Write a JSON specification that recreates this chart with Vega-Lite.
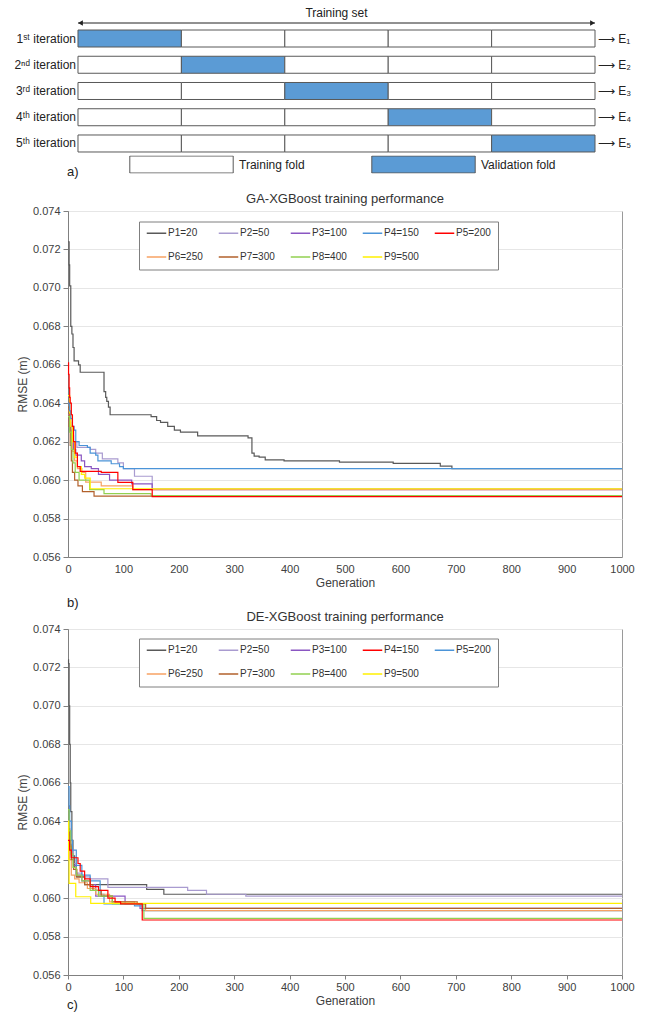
{
  "$schema": "https://vega.github.io/schema/vega-lite/v6.json",
  "background": "white",
  "padding": {"left": 14, "top": 0, "right": 0, "bottom": 0},
  "bounds": "flush",
  "spacing": 72,
  "resolve": {"scale": {"color": "independent"}, "legend": {"color": "independent"}},
  "config": {"font": "Liberation Sans", "view": {"stroke": null}},
  "datasets": {
    "cells": [
      {"iteration": 1, "fold": 1, "fold_type": "Validation fold"}, {"iteration": 1, "fold": 2, "fold_type": "Training fold"}, {"iteration": 1, "fold": 3, "fold_type": "Training fold"}, {"iteration": 1, "fold": 4, "fold_type": "Training fold"}, {"iteration": 1, "fold": 5, "fold_type": "Training fold"},
      {"iteration": 2, "fold": 1, "fold_type": "Training fold"}, {"iteration": 2, "fold": 2, "fold_type": "Validation fold"}, {"iteration": 2, "fold": 3, "fold_type": "Training fold"}, {"iteration": 2, "fold": 4, "fold_type": "Training fold"}, {"iteration": 2, "fold": 5, "fold_type": "Training fold"},
      {"iteration": 3, "fold": 1, "fold_type": "Training fold"}, {"iteration": 3, "fold": 2, "fold_type": "Training fold"}, {"iteration": 3, "fold": 3, "fold_type": "Validation fold"}, {"iteration": 3, "fold": 4, "fold_type": "Training fold"}, {"iteration": 3, "fold": 5, "fold_type": "Training fold"},
      {"iteration": 4, "fold": 1, "fold_type": "Training fold"}, {"iteration": 4, "fold": 2, "fold_type": "Training fold"}, {"iteration": 4, "fold": 3, "fold_type": "Training fold"}, {"iteration": 4, "fold": 4, "fold_type": "Validation fold"}, {"iteration": 4, "fold": 5, "fold_type": "Training fold"},
      {"iteration": 5, "fold": 1, "fold_type": "Training fold"}, {"iteration": 5, "fold": 2, "fold_type": "Training fold"}, {"iteration": 5, "fold": 3, "fold_type": "Training fold"}, {"iteration": 5, "fold": 4, "fold_type": "Training fold"}, {"iteration": 5, "fold": 5, "fold_type": "Validation fold"}
    ],
    "rows": [
      {"iteration": 1, "label": "1ˢᵗ iteration", "result": "⟶ E₁"},
      {"iteration": 2, "label": "2ⁿᵈ iteration", "result": "⟶ E₂"},
      {"iteration": 3, "label": "3ʳᵈ iteration", "result": "⟶ E₃"},
      {"iteration": 4, "label": "4ᵗʰ iteration", "result": "⟶ E₄"},
      {"iteration": 5, "label": "5ᵗʰ iteration", "result": "⟶ E₅"}
    ],
    "ga": [
      {"series": "P1=20", "gen": 0, "rmse": 0.0724}, {"series": "P1=20", "gen": 2, "rmse": 0.0712}, {"series": "P1=20", "gen": 3, "rmse": 0.0701}, {"series": "P1=20", "gen": 5, "rmse": 0.068}, {"series": "P1=20", "gen": 7, "rmse": 0.0676}, {"series": "P1=20", "gen": 9, "rmse": 0.0669}, {"series": "P1=20", "gen": 11, "rmse": 0.0662}, {"series": "P1=20", "gen": 19, "rmse": 0.066}, {"series": "P1=20", "gen": 22, "rmse": 0.06561}, {"series": "P1=20", "gen": 65, "rmse": 0.0646}, {"series": "P1=20", "gen": 68, "rmse": 0.0643}, {"series": "P1=20", "gen": 70, "rmse": 0.0641}, {"series": "P1=20", "gen": 73, "rmse": 0.0638}, {"series": "P1=20", "gen": 76, "rmse": 0.0634}, {"series": "P1=20", "gen": 150, "rmse": 0.0633}, {"series": "P1=20", "gen": 160, "rmse": 0.0631}, {"series": "P1=20", "gen": 167, "rmse": 0.063}, {"series": "P1=20", "gen": 180, "rmse": 0.0628}, {"series": "P1=20", "gen": 192, "rmse": 0.0626}, {"series": "P1=20", "gen": 203, "rmse": 0.0625}, {"series": "P1=20", "gen": 234, "rmse": 0.0623}, {"series": "P1=20", "gen": 325, "rmse": 0.0622}, {"series": "P1=20", "gen": 332, "rmse": 0.0614}, {"series": "P1=20", "gen": 336, "rmse": 0.06125}, {"series": "P1=20", "gen": 345, "rmse": 0.0612}, {"series": "P1=20", "gen": 356, "rmse": 0.06105}, {"series": "P1=20", "gen": 390, "rmse": 0.061}, {"series": "P1=20", "gen": 490, "rmse": 0.06094}, {"series": "P1=20", "gen": 587, "rmse": 0.06087}, {"series": "P1=20", "gen": 672, "rmse": 0.06073}, {"series": "P1=20", "gen": 693, "rmse": 0.0606}, {"series": "P1=20", "gen": 1000, "rmse": 0.0606},
      {"series": "P2=50", "gen": 0, "rmse": 0.0634}, {"series": "P2=50", "gen": 3, "rmse": 0.0628}, {"series": "P2=50", "gen": 6, "rmse": 0.0623}, {"series": "P2=50", "gen": 10, "rmse": 0.062}, {"series": "P2=50", "gen": 16, "rmse": 0.0617}, {"series": "P2=50", "gen": 40, "rmse": 0.0616}, {"series": "P2=50", "gen": 50, "rmse": 0.0614}, {"series": "P2=50", "gen": 62, "rmse": 0.0611}, {"series": "P2=50", "gen": 90, "rmse": 0.0609}, {"series": "P2=50", "gen": 100, "rmse": 0.0606}, {"series": "P2=50", "gen": 120, "rmse": 0.0602}, {"series": "P2=50", "gen": 152, "rmse": 0.05955}, {"series": "P2=50", "gen": 1000, "rmse": 0.05955},
      {"series": "P3=100", "gen": 0, "rmse": 0.0631}, {"series": "P3=100", "gen": 3, "rmse": 0.0626}, {"series": "P3=100", "gen": 6, "rmse": 0.062}, {"series": "P3=100", "gen": 10, "rmse": 0.0616}, {"series": "P3=100", "gen": 14, "rmse": 0.0613}, {"series": "P3=100", "gen": 24, "rmse": 0.061}, {"series": "P3=100", "gen": 30, "rmse": 0.0607}, {"series": "P3=100", "gen": 42, "rmse": 0.0606}, {"series": "P3=100", "gen": 55, "rmse": 0.0603}, {"series": "P3=100", "gen": 75, "rmse": 0.06}, {"series": "P3=100", "gen": 115, "rmse": 0.0598}, {"series": "P3=100", "gen": 152, "rmse": 0.0595}, {"series": "P3=100", "gen": 1000, "rmse": 0.0595},
      {"series": "P6=250", "gen": 0, "rmse": 0.0636}, {"series": "P6=250", "gen": 3, "rmse": 0.063}, {"series": "P6=250", "gen": 5, "rmse": 0.0622}, {"series": "P6=250", "gen": 8, "rmse": 0.0615}, {"series": "P6=250", "gen": 12, "rmse": 0.061}, {"series": "P6=250", "gen": 17, "rmse": 0.0606}, {"series": "P6=250", "gen": 25, "rmse": 0.0604}, {"series": "P6=250", "gen": 32, "rmse": 0.0599}, {"series": "P6=250", "gen": 60, "rmse": 0.0597}, {"series": "P6=250", "gen": 117, "rmse": 0.0595}, {"series": "P6=250", "gen": 1000, "rmse": 0.0595},
      {"series": "P7=300", "gen": 0, "rmse": 0.0638}, {"series": "P7=300", "gen": 2, "rmse": 0.0628}, {"series": "P7=300", "gen": 4, "rmse": 0.0618}, {"series": "P7=300", "gen": 6, "rmse": 0.061}, {"series": "P7=300", "gen": 8, "rmse": 0.0604}, {"series": "P7=300", "gen": 12, "rmse": 0.06}, {"series": "P7=300", "gen": 18, "rmse": 0.0597}, {"series": "P7=300", "gen": 26, "rmse": 0.0594}, {"series": "P7=300", "gen": 47, "rmse": 0.05917}, {"series": "P7=300", "gen": 1000, "rmse": 0.05917},
      {"series": "P8=400", "gen": 0, "rmse": 0.0633}, {"series": "P8=400", "gen": 3, "rmse": 0.0625}, {"series": "P8=400", "gen": 6, "rmse": 0.0616}, {"series": "P8=400", "gen": 9, "rmse": 0.0609}, {"series": "P8=400", "gen": 13, "rmse": 0.0604}, {"series": "P8=400", "gen": 20, "rmse": 0.06}, {"series": "P8=400", "gen": 39, "rmse": 0.0595}, {"series": "P8=400", "gen": 65, "rmse": 0.0593}, {"series": "P8=400", "gen": 150, "rmse": 0.0592}, {"series": "P8=400", "gen": 1000, "rmse": 0.0592},
      {"series": "P9=500", "gen": 0, "rmse": 0.0644}, {"series": "P9=500", "gen": 3, "rmse": 0.0635}, {"series": "P9=500", "gen": 5, "rmse": 0.0628}, {"series": "P9=500", "gen": 8, "rmse": 0.062}, {"series": "P9=500", "gen": 12, "rmse": 0.0612}, {"series": "P9=500", "gen": 17, "rmse": 0.0607}, {"series": "P9=500", "gen": 24, "rmse": 0.0603}, {"series": "P9=500", "gen": 30, "rmse": 0.0601}, {"series": "P9=500", "gen": 40, "rmse": 0.05955}, {"series": "P9=500", "gen": 1000, "rmse": 0.05955},
      {"series": "P4=150", "gen": 0, "rmse": 0.064}, {"series": "P4=150", "gen": 3, "rmse": 0.0636}, {"series": "P4=150", "gen": 5, "rmse": 0.0632}, {"series": "P4=150", "gen": 8, "rmse": 0.0628}, {"series": "P4=150", "gen": 11, "rmse": 0.0626}, {"series": "P4=150", "gen": 14, "rmse": 0.062}, {"series": "P4=150", "gen": 20, "rmse": 0.0618}, {"series": "P4=150", "gen": 35, "rmse": 0.0617}, {"series": "P4=150", "gen": 40, "rmse": 0.0614}, {"series": "P4=150", "gen": 50, "rmse": 0.0613}, {"series": "P4=150", "gen": 54, "rmse": 0.061}, {"series": "P4=150", "gen": 78, "rmse": 0.06085}, {"series": "P4=150", "gen": 93, "rmse": 0.0607}, {"series": "P4=150", "gen": 100, "rmse": 0.0606}, {"series": "P4=150", "gen": 1000, "rmse": 0.0606},
      {"series": "P5=200", "gen": 0, "rmse": 0.0661}, {"series": "P5=200", "gen": 1, "rmse": 0.0655}, {"series": "P5=200", "gen": 2, "rmse": 0.0648}, {"series": "P5=200", "gen": 3, "rmse": 0.0643}, {"series": "P5=200", "gen": 4, "rmse": 0.064}, {"series": "P5=200", "gen": 6, "rmse": 0.0634}, {"series": "P5=200", "gen": 8, "rmse": 0.0628}, {"series": "P5=200", "gen": 10, "rmse": 0.062}, {"series": "P5=200", "gen": 13, "rmse": 0.0614}, {"series": "P5=200", "gen": 17, "rmse": 0.0607}, {"series": "P5=200", "gen": 22, "rmse": 0.06045}, {"series": "P5=200", "gen": 60, "rmse": 0.0604}, {"series": "P5=200", "gen": 90, "rmse": 0.05988}, {"series": "P5=200", "gen": 117, "rmse": 0.0595}, {"series": "P5=200", "gen": 152, "rmse": 0.05914}, {"series": "P5=200", "gen": 1000, "rmse": 0.05914}
    ],
    "de": [
      {"series": "P1=20", "gen": 0, "rmse": 0.0724}, {"series": "P1=20", "gen": 1, "rmse": 0.0722}, {"series": "P1=20", "gen": 2, "rmse": 0.07}, {"series": "P1=20", "gen": 3, "rmse": 0.068}, {"series": "P1=20", "gen": 4, "rmse": 0.066}, {"series": "P1=20", "gen": 5, "rmse": 0.0645}, {"series": "P1=20", "gen": 7, "rmse": 0.063}, {"series": "P1=20", "gen": 9, "rmse": 0.0622}, {"series": "P1=20", "gen": 12, "rmse": 0.0616}, {"series": "P1=20", "gen": 15, "rmse": 0.0611}, {"series": "P1=20", "gen": 30, "rmse": 0.0607}, {"series": "P1=20", "gen": 142, "rmse": 0.06045}, {"series": "P1=20", "gen": 173, "rmse": 0.0602}, {"series": "P1=20", "gen": 1000, "rmse": 0.0602},
      {"series": "P2=50", "gen": 0, "rmse": 0.064}, {"series": "P2=50", "gen": 3, "rmse": 0.0632}, {"series": "P2=50", "gen": 6, "rmse": 0.0625}, {"series": "P2=50", "gen": 10, "rmse": 0.0618}, {"series": "P2=50", "gen": 15, "rmse": 0.0613}, {"series": "P2=50", "gen": 25, "rmse": 0.0611}, {"series": "P2=50", "gen": 40, "rmse": 0.061}, {"series": "P2=50", "gen": 72, "rmse": 0.06056}, {"series": "P2=50", "gen": 216, "rmse": 0.0604}, {"series": "P2=50", "gen": 250, "rmse": 0.0602}, {"series": "P2=50", "gen": 321, "rmse": 0.0601}, {"series": "P2=50", "gen": 1000, "rmse": 0.0601},
      {"series": "P3=100", "gen": 0, "rmse": 0.0635}, {"series": "P3=100", "gen": 3, "rmse": 0.0628}, {"series": "P3=100", "gen": 6, "rmse": 0.0622}, {"series": "P3=100", "gen": 10, "rmse": 0.0617}, {"series": "P3=100", "gen": 15, "rmse": 0.0612}, {"series": "P3=100", "gen": 25, "rmse": 0.0609}, {"series": "P3=100", "gen": 40, "rmse": 0.0607}, {"series": "P3=100", "gen": 50, "rmse": 0.0601}, {"series": "P3=100", "gen": 103, "rmse": 0.0597}, {"series": "P3=100", "gen": 130, "rmse": 0.05947}, {"series": "P3=100", "gen": 1000, "rmse": 0.05947},
      {"series": "P5=200", "gen": 0, "rmse": 0.0658}, {"series": "P5=200", "gen": 2, "rmse": 0.0648}, {"series": "P5=200", "gen": 3, "rmse": 0.064}, {"series": "P5=200", "gen": 6, "rmse": 0.063}, {"series": "P5=200", "gen": 8, "rmse": 0.0625}, {"series": "P5=200", "gen": 15, "rmse": 0.0617}, {"series": "P5=200", "gen": 25, "rmse": 0.0612}, {"series": "P5=200", "gen": 40, "rmse": 0.0609}, {"series": "P5=200", "gen": 58, "rmse": 0.0602}, {"series": "P5=200", "gen": 65, "rmse": 0.0597}, {"series": "P5=200", "gen": 120, "rmse": 0.0596}, {"series": "P5=200", "gen": 134, "rmse": 0.05935}, {"series": "P5=200", "gen": 1000, "rmse": 0.05935},
      {"series": "P6=250", "gen": 0, "rmse": 0.0632}, {"series": "P6=250", "gen": 3, "rmse": 0.062}, {"series": "P6=250", "gen": 6, "rmse": 0.0612}, {"series": "P6=250", "gen": 12, "rmse": 0.061}, {"series": "P6=250", "gen": 20, "rmse": 0.0608}, {"series": "P6=250", "gen": 35, "rmse": 0.0605}, {"series": "P6=250", "gen": 50, "rmse": 0.0602}, {"series": "P6=250", "gen": 75, "rmse": 0.0598}, {"series": "P6=250", "gen": 120, "rmse": 0.0597}, {"series": "P6=250", "gen": 140, "rmse": 0.05935}, {"series": "P6=250", "gen": 1000, "rmse": 0.05935},
      {"series": "P7=300", "gen": 0, "rmse": 0.0636}, {"series": "P7=300", "gen": 3, "rmse": 0.0627}, {"series": "P7=300", "gen": 6, "rmse": 0.062}, {"series": "P7=300", "gen": 10, "rmse": 0.0615}, {"series": "P7=300", "gen": 16, "rmse": 0.0611}, {"series": "P7=300", "gen": 30, "rmse": 0.0607}, {"series": "P7=300", "gen": 45, "rmse": 0.0604}, {"series": "P7=300", "gen": 60, "rmse": 0.0601}, {"series": "P7=300", "gen": 80, "rmse": 0.0598}, {"series": "P7=300", "gen": 125, "rmse": 0.0597}, {"series": "P7=300", "gen": 140, "rmse": 0.05947}, {"series": "P7=300", "gen": 1000, "rmse": 0.05947},
      {"series": "P8=400", "gen": 0, "rmse": 0.0646}, {"series": "P8=400", "gen": 2, "rmse": 0.0635}, {"series": "P8=400", "gen": 5, "rmse": 0.0623}, {"series": "P8=400", "gen": 9, "rmse": 0.0616}, {"series": "P8=400", "gen": 15, "rmse": 0.0612}, {"series": "P8=400", "gen": 25, "rmse": 0.0609}, {"series": "P8=400", "gen": 40, "rmse": 0.0604}, {"series": "P8=400", "gen": 55, "rmse": 0.0601}, {"series": "P8=400", "gen": 80, "rmse": 0.0597}, {"series": "P8=400", "gen": 137, "rmse": 0.05895}, {"series": "P8=400", "gen": 1000, "rmse": 0.05895},
      {"series": "P9=500", "gen": 0, "rmse": 0.064}, {"series": "P9=500", "gen": 1, "rmse": 0.062}, {"series": "P9=500", "gen": 2, "rmse": 0.06077}, {"series": "P9=500", "gen": 14, "rmse": 0.06007}, {"series": "P9=500", "gen": 41, "rmse": 0.05973}, {"series": "P9=500", "gen": 1000, "rmse": 0.05973},
      {"series": "P4=150", "gen": 0, "rmse": 0.063}, {"series": "P4=150", "gen": 3, "rmse": 0.0625}, {"series": "P4=150", "gen": 6, "rmse": 0.0621}, {"series": "P4=150", "gen": 18, "rmse": 0.0618}, {"series": "P4=150", "gen": 22, "rmse": 0.0614}, {"series": "P4=150", "gen": 30, "rmse": 0.061}, {"series": "P4=150", "gen": 40, "rmse": 0.0606}, {"series": "P4=150", "gen": 55, "rmse": 0.0604}, {"series": "P4=150", "gen": 72, "rmse": 0.06}, {"series": "P4=150", "gen": 85, "rmse": 0.0598}, {"series": "P4=150", "gen": 95, "rmse": 0.0597}, {"series": "P4=150", "gen": 134, "rmse": 0.05886}, {"series": "P4=150", "gen": 1000, "rmse": 0.05886}
    ]
  },
  "vconcat": [
    {
      "width": 554,
      "height": 139,
      "view": {"stroke": null},
      "encoding": {
        "x": {"type": "quantitative", "scale": {"domain": [0.4033, 5.761], "nice": false, "zero": false}, "axis": null},
        "y": {"type": "quantitative", "scale": {"domain": [-0.4667, 4.8286], "nice": false, "zero": false, "reverse": true}, "axis": null}
      },
      "layer": [
        {
          "data": {"name": "cells"},
          "mark": {"type": "point", "shape": "M-1,-0.1644H1V0.1644H-1Z", "size": 10692, "filled": true, "opacity": 1, "stroke": "#595959", "strokeWidth": 1},
          "encoding": {
            "x": {"field": "fold", "type": "quantitative"},
            "y": {"field": "iteration", "type": "quantitative"},
            "color": {
              "field": "fold_type", "type": "nominal",
              "scale": {"domain": ["Training fold", "Validation fold"], "range": ["#ffffff", "#5b9bd5"]},
              "legend": {"orient": "none", "legendX": 61, "legendY": 155.5, "direction": "horizontal", "columns": 2, "title": null, "padding": 0, "symbolType": "M-1,-0.1644H1V0.1644H-1Z", "symbolSize": 10692, "symbolStrokeColor": "#595959", "symbolStrokeWidth": 1, "symbolOpacity": 1, "clipHeight": 18, "labelFontSize": 12, "labelOffset": 5, "columnPadding": 66, "labelColor": "#222222"}
            }
          }
        },
        {
          "data": {"name": "rows"},
          "mark": {"type": "text", "align": "right", "baseline": "middle", "dx": -2, "fontSize": 12, "color": "#222222"},
          "encoding": {"x": {"datum": 0.5}, "y": {"field": "iteration", "type": "quantitative"}, "text": {"field": "label"}}
        },
        {
          "data": {"name": "rows"},
          "mark": {"type": "text", "align": "left", "baseline": "middle", "dx": 3, "fontSize": 12, "color": "#222222"},
          "encoding": {"x": {"datum": 5.5}, "y": {"field": "iteration", "type": "quantitative"}, "text": {"field": "result"}}
        },
        {
          "data": {"values": [{"label": "Training set"}]},
          "mark": {"type": "text", "align": "center", "baseline": "middle", "fontSize": 12, "color": "#222222"},
          "encoding": {"x": {"datum": 3}, "y": {"datum": 0.03}, "text": {"field": "label"}}
        },
        {
          "data": {"values": [{"a": 1}]},
          "mark": {"type": "rule", "color": "#222222", "strokeWidth": 1},
          "encoding": {"x": {"datum": 0.5}, "x2": {"datum": 5.5}, "y": {"datum": 0.41}}
        },
        {
          "data": {"values": [{"a": 1}]},
          "mark": {"type": "point", "shape": "triangle-left", "size": 30, "filled": true, "opacity": 1, "color": "#222222", "xOffset": 2.5},
          "encoding": {"x": {"datum": 0.5}, "y": {"datum": 0.41}}
        },
        {
          "data": {"values": [{"a": 1}]},
          "mark": {"type": "point", "shape": "triangle-right", "size": 30, "filled": true, "opacity": 1, "color": "#222222", "xOffset": -2.5},
          "encoding": {"x": {"datum": 5.5}, "y": {"datum": 0.41}}
        },
        {
          "data": {"values": [{"label": "a)"}]},
          "mark": {"type": "text", "align": "left", "baseline": "middle", "fontSize": 13, "color": "#222222"},
          "encoding": {"x": {"datum": 0.394}, "y": {"datum": 6.09}, "text": {"field": "label"}}
        }
      ]
    },
    {
      "width": 554,
      "height": 346,
      "title": {"text": "GA-XGBoost training performance", "fontSize": 13, "fontWeight": "normal", "offset": -1, "color": "#333333"},
      "view": {"stroke": "#9a9a9a", "strokeWidth": 1},
      "layer": [
        {
          "data": {"name": "ga"},
          "mark": {"type": "line", "interpolate": "step-after", "strokeWidth": 1.2},
          "encoding": {
            "x": {"field": "gen", "type": "quantitative", "scale": {"domain": [0, 1000], "nice": false},
              "axis": {"values": [0, 100, 200, 300, 400, 500, 600, 700, 800, 900, 1000], "tickCount": 20, "format": "d", "title": "Generation", "grid": false, "ticks": false, "labelFlush": false, "labelOverlap": false, "labelPadding": 6, "labelFontSize": 11, "labelColor": "#404040", "titleFontSize": 12, "titleFontWeight": "normal", "titleColor": "#404040", "titlePadding": 3, "domainColor": "#808080"}},
            "y": {"field": "rmse", "type": "quantitative", "scale": {"domain": [0.056, 0.074], "nice": false, "zero": false},
              "axis": {"values": [0.056, 0.058, 0.06, 0.062, 0.064, 0.066, 0.068, 0.07, 0.072, 0.074], "tickCount": 20, "format": ".3f", "title": "RMSE (m)", "labelFlush": false, "labelOverlap": false, "labelFontSize": 11, "labelColor": "#404040", "labelPadding": 3, "tickSize": 5, "tickColor": "#808080", "domainColor": "#808080", "gridColor": "#e6e6e6", "titleFontSize": 12, "titleFontWeight": "normal", "titleColor": "#404040", "titlePadding": 3}},
            "color": {"field": "series", "type": "nominal",
              "scale": {"domain": ["P1=20", "P2=50", "P3=100", "P4=150", "P5=200", "P6=250", "P7=300", "P8=400", "P9=500"], "range": ["#595959", "#a99bd0", "#8a56c2", "#4b94d8", "#ff0000", "#f7a263", "#b2602b", "#92d050", "#fff000"]},
              "legend": {"orient": "none", "legendX": 71, "legendY": 10.5, "direction": "horizontal", "columns": 5, "title": null, "strokeColor": "#7f7f7f", "fillColor": "white", "padding": 7, "symbolType": "stroke", "symbolSize": 380, "symbolStrokeWidth": 1.5, "labelFontSize": 10, "labelColor": "#333333", "labelOffset": 1, "columnPadding": 15, "rowPadding": 13, "clipHeight": 9}},
            "strokeWidth": {"condition": [{"test": "datum.series === 'P5=200'", "value": 2}, {"test": "datum.series === 'P4=150'", "value": 1.6}], "value": 1.2}
          }
        },
        {
          "data": {"values": [{"label": "b)"}]},
          "mark": {"type": "text", "align": "left", "baseline": "middle", "fontSize": 13, "color": "#222222", "dy": 46, "dx": -1},
          "encoding": {"x": {"datum": 0}, "y": {"datum": 0.056}, "text": {"field": "label"}}
        }
      ]
    },
    {
      "width": 554,
      "height": 346,
      "title": {"text": "DE-XGBoost training performance", "fontSize": 13, "fontWeight": "normal", "offset": -1, "color": "#333333"},
      "view": {"stroke": "#9a9a9a", "strokeWidth": 1},
      "layer": [
        {
          "data": {"name": "de"},
          "mark": {"type": "line", "interpolate": "step-after", "strokeWidth": 1.2},
          "encoding": {
            "x": {"field": "gen", "type": "quantitative", "scale": {"domain": [0, 1000], "nice": false},
              "axis": {"values": [0, 100, 200, 300, 400, 500, 600, 700, 800, 900, 1000], "tickCount": 20, "format": "d", "title": "Generation", "grid": false, "ticks": true, "tickSize": 4, "tickColor": "#808080", "labelFlush": false, "labelOverlap": false, "labelPadding": 2, "labelFontSize": 11, "labelColor": "#404040", "titleFontSize": 12, "titleFontWeight": "normal", "titleColor": "#404040", "titlePadding": 3, "domainColor": "#808080"}},
            "y": {"field": "rmse", "type": "quantitative", "scale": {"domain": [0.056, 0.074], "nice": false, "zero": false},
              "axis": {"values": [0.056, 0.058, 0.06, 0.062, 0.064, 0.066, 0.068, 0.07, 0.072, 0.074], "tickCount": 20, "format": ".3f", "title": "RMSE (m)", "labelFlush": false, "labelOverlap": false, "labelFontSize": 11, "labelColor": "#404040", "labelPadding": 3, "tickSize": 5, "tickColor": "#808080", "domainColor": "#808080", "gridColor": "#e6e6e6", "titleFontSize": 12, "titleFontWeight": "normal", "titleColor": "#404040", "titlePadding": 3}},
            "color": {"field": "series", "type": "nominal",
              "scale": {"domain": ["P1=20", "P2=50", "P3=100", "P4=150", "P5=200", "P6=250", "P7=300", "P8=400", "P9=500"], "range": ["#595959", "#a99bd0", "#8a56c2", "#ff0000", "#4b94d8", "#f7a263", "#b2602b", "#92d050", "#fff000"]},
              "legend": {"orient": "none", "legendX": 71, "legendY": 9.5, "direction": "horizontal", "columns": 5, "title": null, "strokeColor": "#7f7f7f", "fillColor": "white", "padding": 7, "symbolType": "stroke", "symbolSize": 380, "symbolStrokeWidth": 1.5, "labelFontSize": 10, "labelColor": "#333333", "labelOffset": 1, "columnPadding": 15, "rowPadding": 13, "clipHeight": 9}},
            "strokeWidth": {"condition": {"test": "datum.series === 'P4=150'", "value": 2}, "value": 1.2}
          }
        },
        {
          "data": {"values": [{"label": "c)"}]},
          "mark": {"type": "text", "align": "left", "baseline": "middle", "fontSize": 13, "color": "#222222", "dy": 30, "dx": -1},
          "encoding": {"x": {"datum": 0}, "y": {"datum": 0.056}, "text": {"field": "label"}}
        }
      ]
    }
  ]
}
